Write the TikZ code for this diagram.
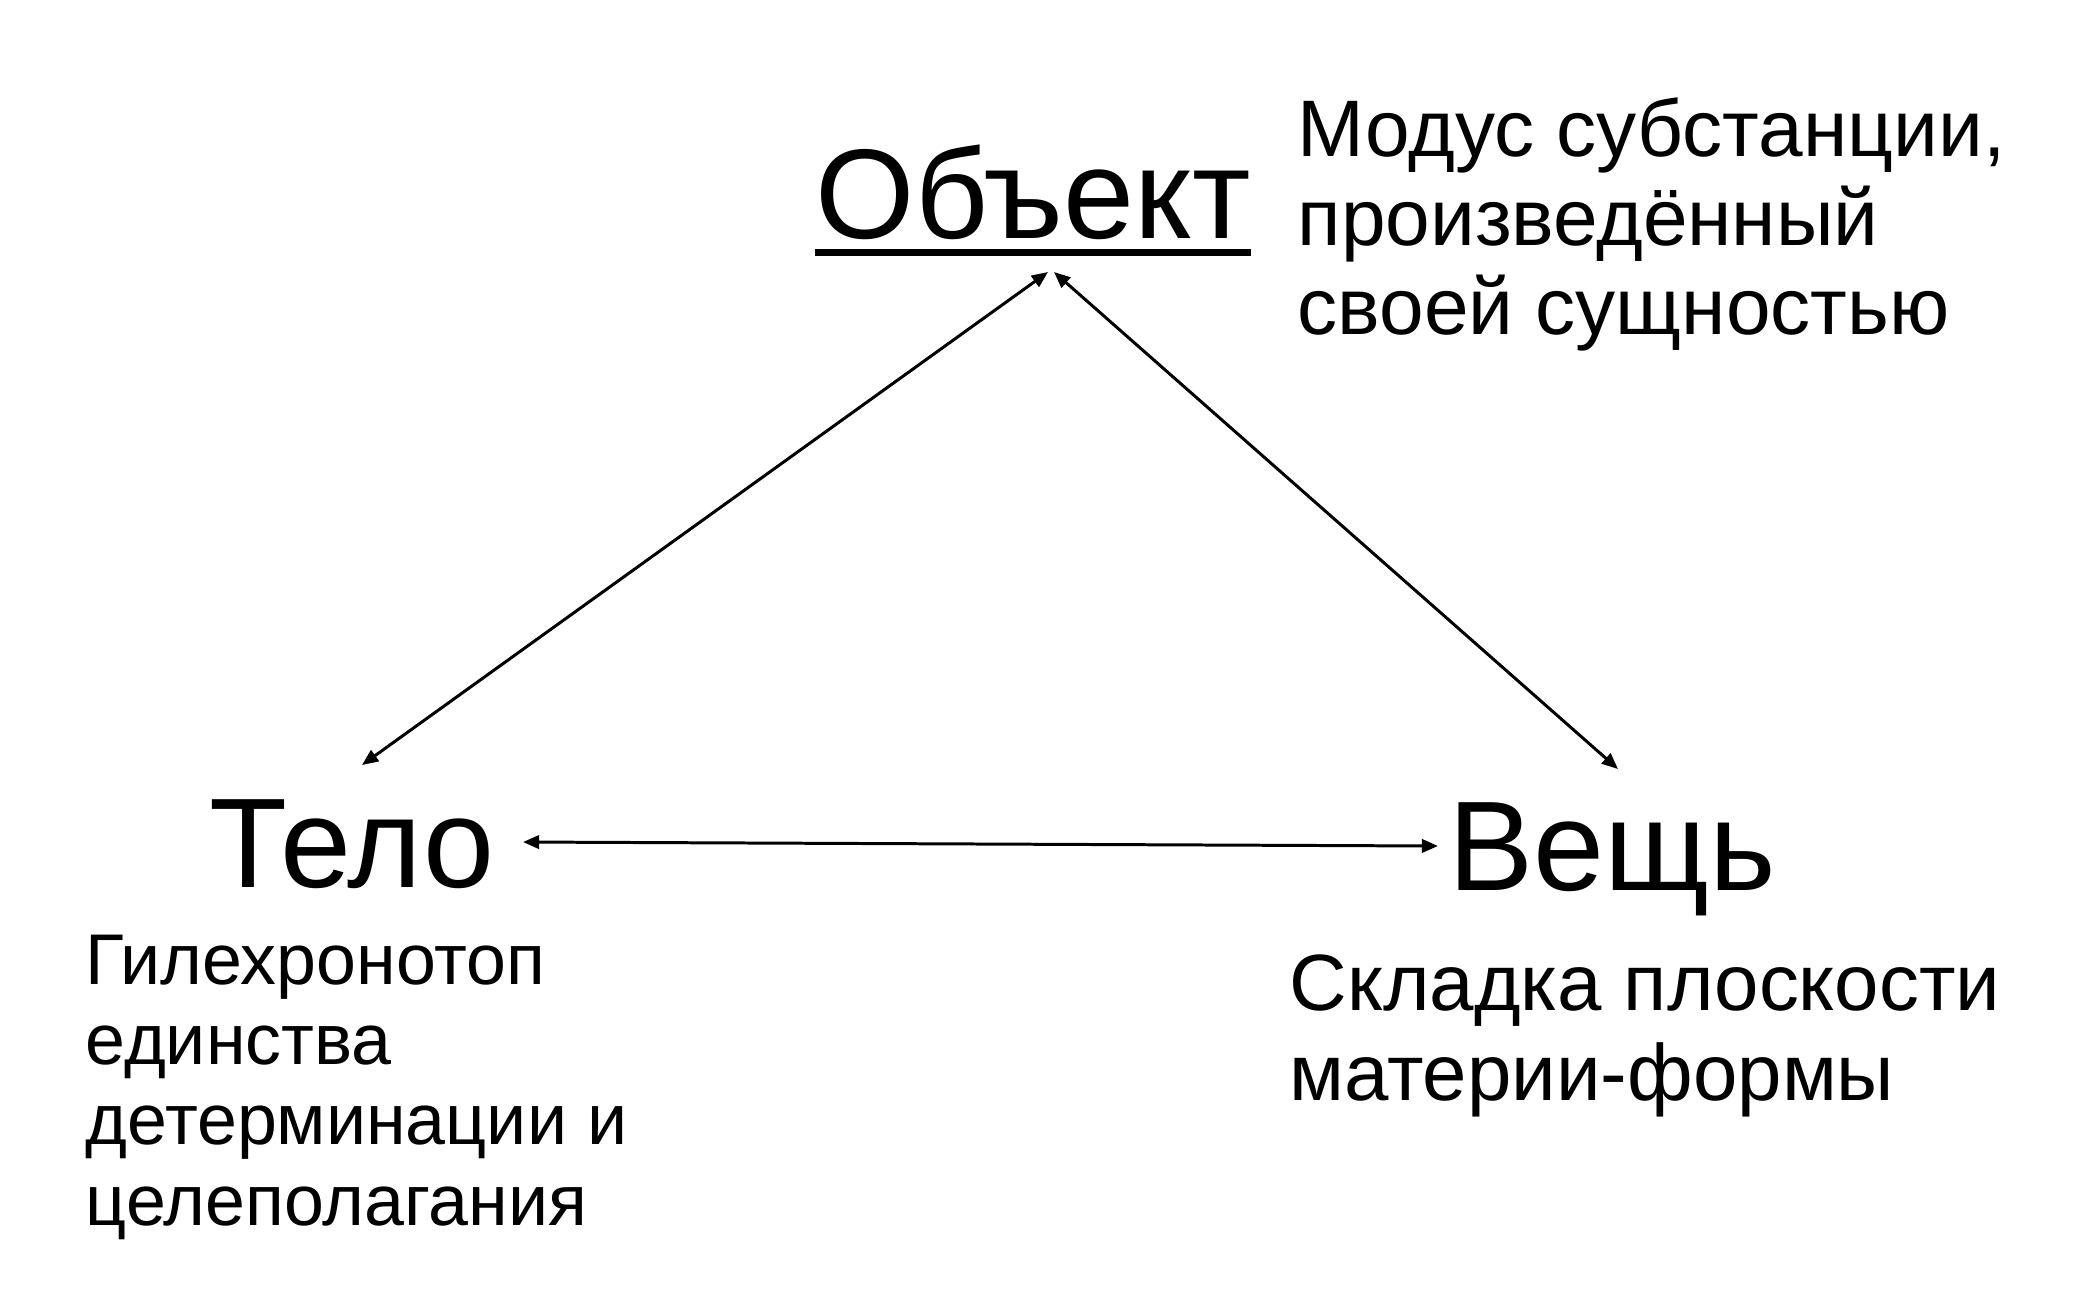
\documentclass[tikz,border=0pt]{standalone}
\usepackage{fontspec}
\setmainfont{Liberation Sans}
\usepackage{tikz}
\usetikzlibrary{arrows.meta}
\tikzset{>={Triangle[length=4.6pt,width=3.8pt]}}
\tikzset{
  term/.style={inner sep=0pt,anchor=base west,font=\fontsize{36.3}{40}\selectfont},
  gloss/.style={inner sep=0pt,anchor=base west,align=left},
  link/.style={<->,line width=0.85pt},
}
\begin{document}
\begin{tikzpicture}[x=0.01cm,y=-0.01cm]
\useasboundingbox (0,0) rectangle (2079,1293);
\node[term] (obj) at (815,238) {Объект};
\draw[line width=2pt] ([yshift=-14.5*0.2845pt]obj.base west) -- ([yshift=-14.5*0.2845pt]obj.base east);
\node[term] (telo) at (209,887) {Тело};
\node[term] (vesh) at (1448,890) {Вещь};
% base west of a multi-line node = last line
\node[gloss,font=\fontsize{22.8}{25.2}\selectfont] (objtxt) at (1297,334)
  {Модус субстанции,\\произведённый\\своей сущностью};
\node[gloss,font=\fontsize{20.4}{22.8}\selectfont] (telotxt) at (85,1225)
  {Гилехронотоп\\единства\\детерминации и\\целеполагания};
\node[gloss,font=\fontsize{22.7}{25.6}\selectfont] (veshtxt) at (1289,1100)
  {Складка плоскости\\материи-формы};
\coordinate (objL) at (1048,272);
\coordinate (objR) at (1054,272);
\coordinate (teloN) at (362,765);
\coordinate (teloE) at (523,842);
\coordinate (veshN) at (1618,769);
\coordinate (veshW) at (1438,846);
\draw[link] (objL) -- (teloN);
\draw[link] (objR) -- (veshN);
\draw[link] (teloE) -- (veshW);
\end{tikzpicture}
\end{document}
